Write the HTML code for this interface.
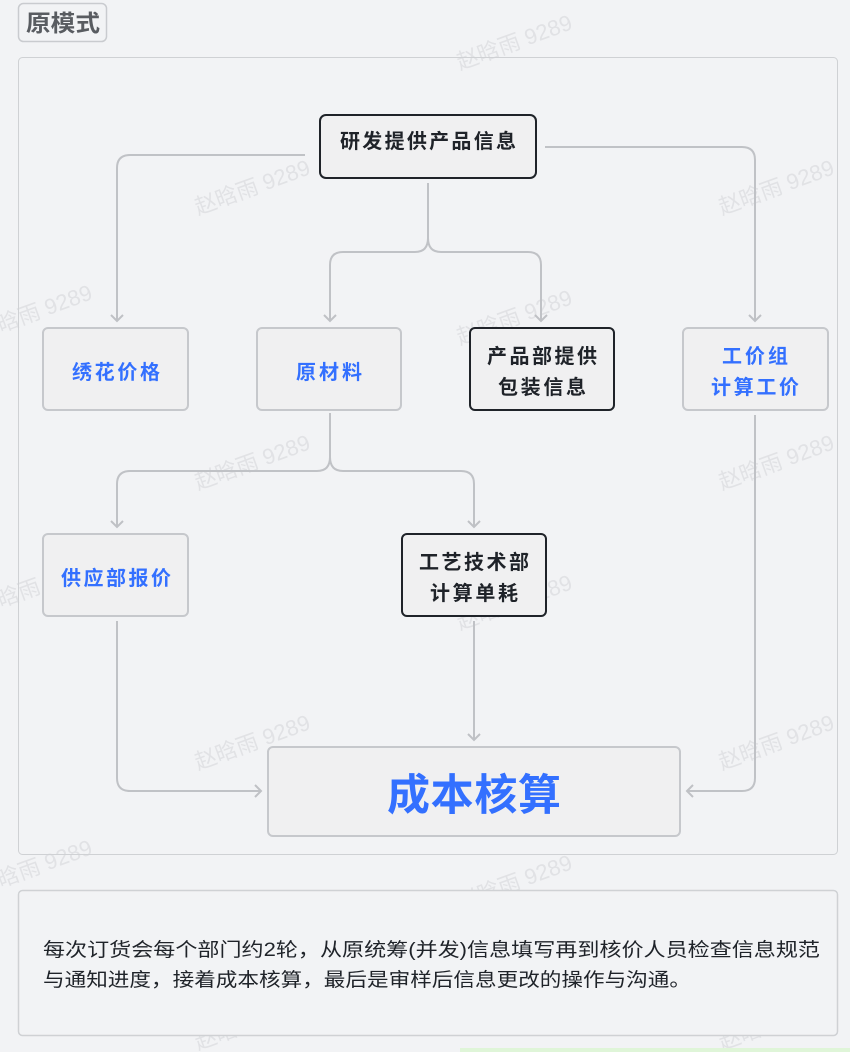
<!DOCTYPE html>
<html><head><meta charset="utf-8"><style>
html,body{margin:0;padding:0;background:#f2f3f5;}
svg{display:block;}
text{font-family:"Liberation Sans","Noto Sans CJK SC",sans-serif;}
</style></head><body>
<svg width="850" height="1052" viewBox="0 0 850 1052" xmlns="http://www.w3.org/2000/svg">
<defs>
<marker id="a" markerWidth="14" markerHeight="14" refX="7" refY="7" orient="auto" markerUnits="userSpaceOnUse">
<path d="M1,1 L7,7 L1,13" fill="none" stroke="#bfc1c5" stroke-width="2"/>
</marker>
</defs>
<rect width="850" height="1052" fill="#f2f3f5"/>
<g fill="#e1e2e5" font-size="22">
<text transform="translate(460,70) rotate(-20)">赵晗雨 9289</text>
<text transform="translate(198,215) rotate(-20)">赵晗雨 9289</text>
<text transform="translate(722,215) rotate(-20)">赵晗雨 9289</text>
<text transform="translate(-20,340) rotate(-20)">赵晗雨 9289</text>
<text transform="translate(460,345) rotate(-20)">赵晗雨 9289</text>
<text transform="translate(198,490) rotate(-20)">赵晗雨 9289</text>
<text transform="translate(722,490) rotate(-20)">赵晗雨 9289</text>
<text transform="translate(-20,615) rotate(-20)">赵晗雨 9289</text>
<text transform="translate(460,630) rotate(-20)">赵晗雨 9289</text>
<text transform="translate(198,770) rotate(-20)">赵晗雨 9289</text>
<text transform="translate(722,770) rotate(-20)">赵晗雨 9289</text>
<text transform="translate(-20,895) rotate(-20)">赵晗雨 9289</text>
<text transform="translate(460,910) rotate(-20)">赵晗雨 9289</text>
<text transform="translate(198,1050) rotate(-20)">赵晗雨 9289</text>
<text transform="translate(722,1050) rotate(-20)">赵晗雨 9289</text>
</g>
<rect x="18.5" y="3.5" width="88" height="38" rx="5" fill="#f2f3f5" stroke="#c9cbcf" stroke-width="1.5"/>
<text x="26" y="31" font-size="23" font-weight="bold" fill="#595c61" textLength="74" lengthAdjust="spacingAndGlyphs">原模式</text>
<rect x="18.5" y="57.5" width="819" height="797" rx="4" fill="none" stroke="#cfd1d4" stroke-width="1"/>
<g fill="none" stroke="#c0c2c6" stroke-width="2">
<path d="M305,155 H130 Q117,155 117,168 V321" marker-end="url(#a)"/>
<path d="M545,147 H742 Q755,147 755,160 V321" marker-end="url(#a)"/>
<path d="M428,183 V238 Q428,252 415,252 H343 Q330,252 330,265 V321" marker-end="url(#a)"/>
<path d="M428,238 Q428,252 441,252 H528 Q541,252 541,265 V321" marker-end="url(#a)"/>
<path d="M330,413 V457 Q330,471 317,471 H130 Q117,471 117,484 V527" marker-end="url(#a)"/>
<path d="M330,457 Q330,471 343,471 H461 Q474,471 474,484 V527" marker-end="url(#a)"/>
<path d="M117,621 V778 Q117,791 130,791 H261" marker-end="url(#a)"/>
<path d="M474,621 V740" marker-end="url(#a)"/>
<path d="M755,415 V778 Q755,791 742,791 H687" marker-end="url(#a)"/>
</g>
<g stroke-width="2">
<rect x="320" y="115" width="216" height="63" rx="6" fill="#f0f0f1" stroke="#1f2329"/>
<rect x="43" y="328" width="145" height="82" rx="5" fill="#f0f0f1" stroke="#c6c8cc"/>
<rect x="257" y="328" width="144" height="82" rx="5" fill="#f0f0f1" stroke="#c6c8cc"/>
<rect x="470" y="328" width="144" height="82" rx="5" fill="#f0f0f1" stroke="#1f2329"/>
<rect x="683" y="328" width="145" height="82" rx="5" fill="#f0f0f1" stroke="#c6c8cc"/>
<rect x="43" y="534" width="145" height="82" rx="5" fill="#f0f0f1" stroke="#c6c8cc"/>
<rect x="402" y="534" width="144" height="82" rx="5" fill="#f0f0f1" stroke="#1f2329"/>
<rect x="268" y="747" width="412" height="89" rx="5" fill="#f0f0f1" stroke="#c6c8cc"/>
</g>
<g font-size="20" font-weight="bold" text-anchor="middle" lengthAdjust="spacingAndGlyphs">
<text x="428" y="148" fill="#1f2329" textLength="176">研发提供产品信息</text>
<text x="116" y="379" fill="#3370ff" textLength="88">绣花价格</text>
<text x="329" y="379" fill="#3370ff" textLength="66">原材料</text>
<text x="542" y="363" fill="#1f2329" textLength="110">产品部提供</text>
<text x="542" y="394" fill="#1f2329" textLength="88">包装信息</text>
<text x="755" y="363" fill="#3370ff" textLength="66">工价组</text>
<text x="755" y="394" fill="#3370ff" textLength="88">计算工价</text>
<text x="116" y="585" fill="#3370ff" textLength="110">供应部报价</text>
<text x="474" y="569" fill="#1f2329" textLength="110">工艺技术部</text>
<text x="474" y="600" fill="#1f2329" textLength="88">计算单耗</text>
<text x="474" y="810" font-size="43" fill="#3370ff" textLength="174">成本核算</text>
</g>
<rect x="18.5" y="890.5" width="819" height="145" rx="4" fill="#f2f3f5" stroke="#cfd1d4" stroke-width="1.5"/>
<g font-size="19" fill="#1f2329">
<text x="43" y="956" textLength="777" lengthAdjust="spacingAndGlyphs">每次订货会每个部门约2轮，从原统筹(并发)信息填写再到核价人员检查信息规范</text>
<text x="43" y="986" textLength="648" lengthAdjust="spacingAndGlyphs">与通知进度，接着成本核算，最后是审样后信息更改的操作与沟通。</text>
</g>
<rect x="460" y="1048" width="390" height="4" fill="#dff5d8"/>
</svg>
</body></html>
